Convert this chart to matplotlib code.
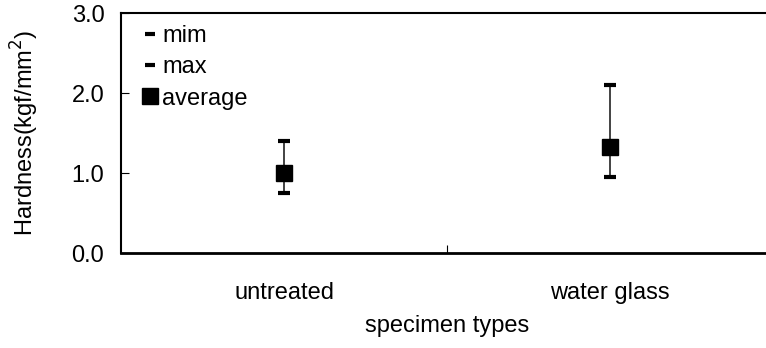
import numpy as np
import matplotlib.pyplot as plt
from matplotlib.lines import Line2D

categories = ['untreated', 'water glass']
hard_min = [0.75, 0.95]
hard_max = [1.40, 2.10]
hard_avg = [1.00, 1.33]

plt.rcParams['font.family'] = ['Liberation Sans', 'DejaVu Sans']

fig = plt.figure(figsize=(7.66, 3.48), dpi=100)
ax = fig.add_axes([121 / 766, 95 / 348, 652 / 766, 240 / 348])

x = np.arange(len(categories))
ax.vlines(x, hard_min, hard_max, color='#222222', lw=1.2, zorder=1)
ax.plot(x, hard_min, ls='none', marker='_', ms=9, mew=3, color='black', zorder=2)
ax.plot(x, hard_max, ls='none', marker='_', ms=9, mew=3, color='black', zorder=2)
ax.plot(x, hard_avg, ls='none', marker='s', ms=11.5, color='black', zorder=3)

ax.set_xlim(-0.5, 1.5)
ax.set_ylim(0, 3)
ax.set_yticks([0, 1, 2, 3])
ax.set_yticklabels(['0.0', '1.0', '2.0', '3.0'])
ax.set_xticks(x)
ax.set_xticklabels(categories)
ax.set_xticks([0.5], minor=True)
ax.tick_params(axis='x', which='major', length=0, pad=21, labelsize=17)
ax.tick_params(axis='x', which='minor', length=6, direction='in', width=0.8)
ax.tick_params(axis='y', direction='in', length=6, width=0.8, pad=12, labelsize=17)

ax.spines['right'].set_visible(False)
ax.spines['left'].set_linewidth(1.5)
ax.spines['bottom'].set_linewidth(2)
ax.spines['top'].set_linewidth(1.5)

ax.set_xlabel('specimen types', fontsize=17, labelpad=8)
ax.set_ylabel('Hardness(kgf/mm$^2$)', fontsize=17, labelpad=22)

handles = [
    Line2D([], [], ls='none', marker='_', ms=7, mew=3, color='black'),
    Line2D([], [], ls='none', marker='_', ms=7, mew=3, color='black'),
    Line2D([], [], ls='none', marker='s', ms=11, color='black'),
]
ax.legend(handles, ['mim', 'max', 'average'], loc='upper left', frameon=False,
          fontsize=17, handlelength=0.5, handletextpad=0.25, labelspacing=0.4,
          borderaxespad=0.1, bbox_to_anchor=(0.018, 1.0))

fig.savefig('out.png', dpi=100)
